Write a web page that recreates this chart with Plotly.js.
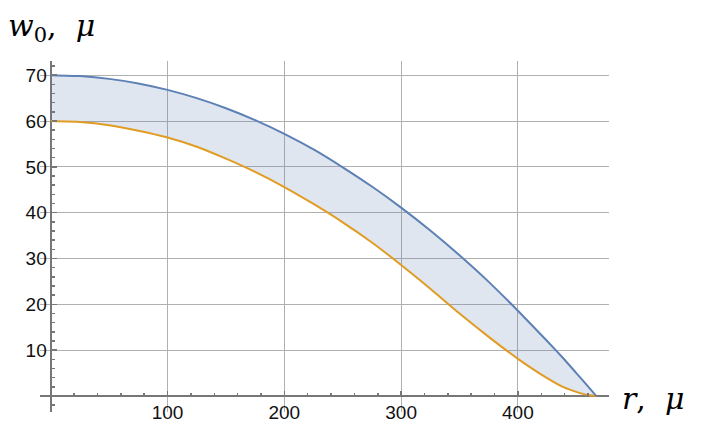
<!DOCTYPE html>
<html>
<head>
<meta charset="utf-8">
<script src="https://cdn.plot.ly/plotly-3.0.1.min.js"></script>
<style>html,body{margin:0;padding:0;background:#fff;}#chart{width:702px;height:433px;}</style>
</head>
<body>
<div id="chart"></div>
<script>
// radius r (μ)
const r = [0,25,50,75,100,125,150,175,200,225,250,275,300,325,350,375,400,425,440,450,460,467];
// upper boundary w0 (μ)
const upper = [70,69.8,69.2,68.2,66.8,65.0,62.8,60.2,57.2,53.8,49.9,45.7,41.1,36.1,30.7,24.9,18.6,12.0,7.9,5.0,2.1,0];
// lower boundary w0 (μ)
const lower = [60,59.8,59.1,57.9,56.4,54.4,51.8,48.9,45.6,41.9,37.9,33.5,28.6,23.4,18.0,12.9,8.1,3.9,1.8,0.9,0.2,0];
const xTicks = [100,200,300,400];
const yTicks = [10,20,30,40,50,60,70];
const xRange = [-9.2, 478];
const yRange = [-3.5, 73.1];

const axisGray = '#777777';
const gridGray = '#b0b0b0';
const tickFont = {family: 'Liberation Sans, Arial, sans-serif', size: 19, color: '#111'};
const titleFont = {family: 'DejaVu Serif, serif', size: 30, color: '#000'};

const traces = [
  {x: r, y: lower, type: 'scatter', mode: 'lines', line: {color: '#e19c24', width: 2, shape: 'spline', smoothing: 0.5}, hoverinfo: 'skip'},
  {x: r, y: upper, type: 'scatter', mode: 'lines', fill: 'tonexty', fillcolor: 'rgba(94,129,181,0.2)', line: {color: '#5e81b5', width: 2, shape: 'spline', smoothing: 0.5}, hoverinfo: 'skip'}
];

const L = 40, R = 93, T = 61, B = 21;
const W = 702, H = 433;
const pw = W - L - R, ph = H - T - B;
const xPos = (0 - xRange[0]) / (xRange[1] - xRange[0]);
const yPos = (0 - yRange[0]) / (yRange[1] - yRange[0]);

const layout = {
  width: W, height: H,
  margin: {l: L, r: R, t: T, b: B, pad: 0},
  paper_bgcolor: '#fff', plot_bgcolor: '#fff',
  showlegend: false,
  xaxis: {
    range: xRange, anchor: 'free', position: yPos,
    tickmode: 'array', tickvals: xTicks, ticktext: xTicks.map(String),
    ticks: 'inside', ticklen: 5, tickwidth: 1.5, tickcolor: axisGray,
    minor: {dtick: 20, tick0: 0, ticks: 'inside', ticklen: 3, tickwidth: 1.5, tickcolor: axisGray, showgrid: false},
    showgrid: true, gridcolor: gridGray, gridwidth: 1,
    zeroline: true, zerolinecolor: axisGray, zerolinewidth: 2,
    showline: false, tickfont: tickFont, ticklabelstandoff: 3
  },
  yaxis: {
    range: yRange, anchor: 'free', position: xPos,
    tickmode: 'array', tickvals: yTicks, ticktext: yTicks.map(String),
    ticks: 'inside', ticklen: 5, tickwidth: 1.5, tickcolor: axisGray,
    minor: {dtick: 2, tick0: 0, ticks: 'inside', ticklen: 3, tickwidth: 1.5, tickcolor: axisGray, showgrid: false},
    showgrid: true, gridcolor: gridGray, gridwidth: 1,
    zeroline: true, zerolinecolor: axisGray, zerolinewidth: 2,
    showline: false, tickfont: tickFont, ticklabelstandoff: 4
  },
  annotations: [
    {text: '<i>w</i><sub>0</sub>,  <i>μ</i>', xref: 'paper', yref: 'paper',
     x: (6 - L) / pw, y: (H - B - 27) / ph, xanchor: 'left', yanchor: 'middle', showarrow: false,
     font: titleFont},
    {text: '<i>r</i>,  <i>μ</i>', xref: 'paper', yref: 'paper',
     x: (620 - L) / pw, y: (H - B - 398) / ph, xanchor: 'left', yanchor: 'middle', showarrow: false,
     font: titleFont}
  ]
};

Plotly.newPlot('chart', traces, layout, {displayModeBar: false, staticPlot: true});
</script>
</body>
</html>
